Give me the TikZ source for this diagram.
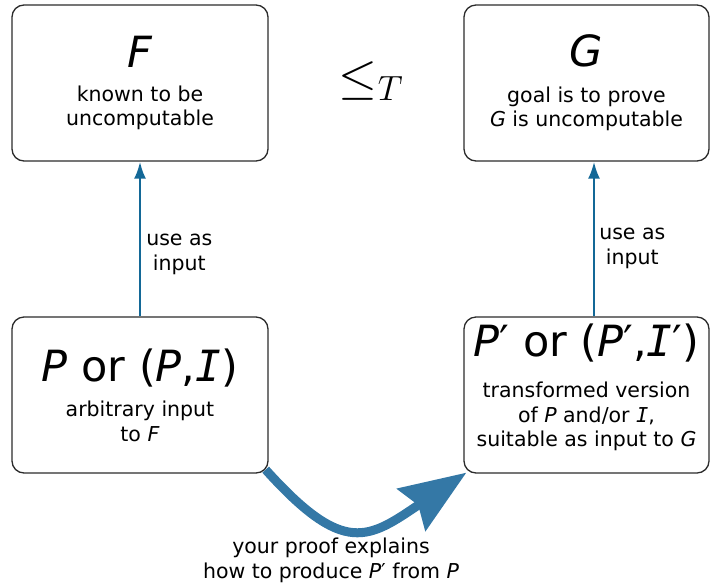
\documentclass[tikz,border=0pt]{standalone}
\usepackage{fix-cm}
\usepackage{fontspec}
\setmainfont{DejaVu Sans}
\newfontfamily\monofam{DejaVu Sans Mono}
\usetikzlibrary{arrows.meta}
\definecolor{boxline}{HTML}{2B2B2B}
\definecolor{usearrow}{HTML}{136897}
\definecolor{proofarrow}{HTML}{3478A6}
\newlength{\BoxHeight}
\newlength{\WideBox}
\newlength{\NarrowBox}
\setlength{\BoxHeight}{156pt}
\setlength{\WideBox}{256pt}
\setlength{\NarrowBox}{245pt}
\newcommand{\bodyfont}{\fontsize{20.5}{24.5}\selectfont}
\newcommand{\bigfont}{\fontsize{43}{48}\selectfont}
\newcommand{\varI}{{\monofam\itshape I}}
\newcommand{\tick}{{\upshape ′}}
\tikzset{
  prob box/.style={draw=boxline, line width=1.3pt, rounded corners=12pt, minimum height=\BoxHeight, inner sep=0pt, align=center, font=\bodyfont},
  use arrow/.style={draw=usearrow, line width=2.6pt, -{Latex[length=17pt,width=12pt]}},
  proof arrow/.style={draw=proofarrow, line width=9pt, -{Stealth[length=66pt,width=50pt,inset=8pt]}},
  label text/.style={font=\bodyfont, align=center, inner sep=0pt}
}

\begin{document}
\begin{tikzpicture}[x=1pt,y=1pt]
  \useasboundingbox (0,0) rectangle (711,-587);

  \node[prob box, minimum width=\WideBox] (F) at (140,-83)
    {{\bigfont\textit{F}}\\[9pt]known to be\\uncomputable};
  \node[prob box, minimum width=\NarrowBox] (G) at (586.5,-83)
    {{\bigfont\textit{G}}\\[11pt]goal is to prove\\\textit{G} is uncomputable};
  \node[prob box, minimum width=\WideBox] (P) at (140,-395)
    {{\bigfont\textit{P} or (\textit{P},\varI)}\\[11pt]arbitrary input\\to \textit{F}};
  \node[prob box, minimum width=\NarrowBox] (Pp) at (586.5,-395)
    {{\bigfont\textit{P}\tick{} or (\textit{P}\tick,\varI\tick)}\\[17pt]transformed version\\of \textit{P} and/or \varI,\\suitable as input to \textit{G}\\[-5pt]\mbox{}};

  \node[font=\fontsize{50}{56}\selectfont] (redT) at (371,-81) {$\leq_T$};

  \draw[use arrow] (P) -- node[pos=0.40, right=5pt, label text] (useF) {use as\\input} (F);
  \draw[use arrow] ([xshift=7.5pt]Pp.north) -- node[pos=0.44, right=4pt, label text] (useG) {use as\\input} ([xshift=7.5pt]G.south);

  \draw[proof arrow] ([shift={(-3pt,4pt)}]P.south east) to[out=-48,in=214,looseness=1.5] ([shift={(3pt,1pt)}]Pp.south west);
  \node[label text, font=\fontsize{20.5}{25}\selectfont] (proof) at (331,-560)
    {your proof explains\\how to produce \textit{P}\tick{} from \textit{P}};
\end{tikzpicture}
\end{document}
